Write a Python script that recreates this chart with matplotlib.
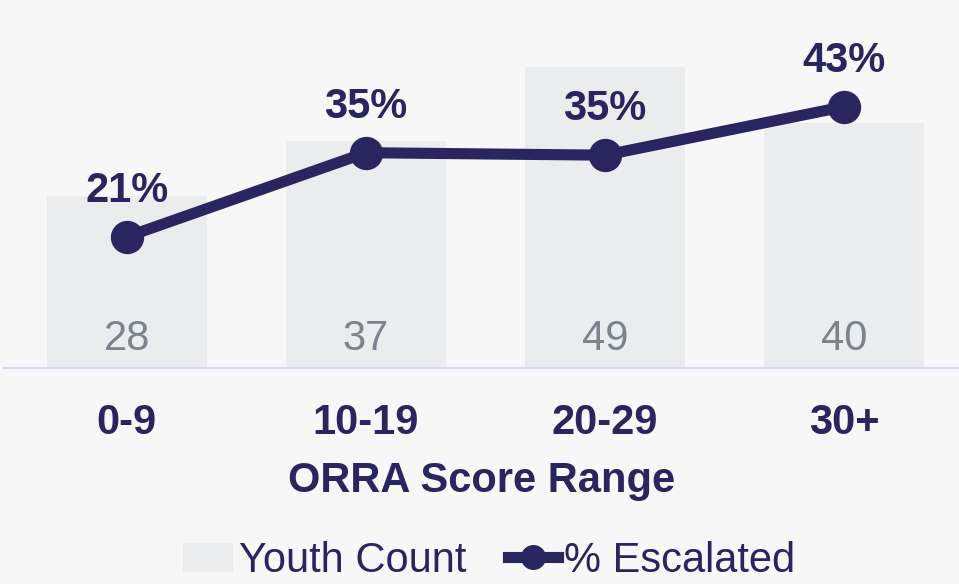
import matplotlib
matplotlib.use("Agg")
import matplotlib.pyplot as plt
from matplotlib.patches import Patch
from matplotlib.lines import Line2D

# data
ranges = ["0-9", "10-19", "20-29", "30+"]
youth_count = [28, 37, 49, 40]
pct_escalated = [21.4, 35.1, 34.7, 42.6]

NAVY = "#29265f"
BAR = "#ebecee"
BG = "#f7f7f8"
COUNT_GREY = "#7b848d"
AXIS_LINE = "#dcd8ef"

plt.rcParams.update({
    "font.family": ["Liberation Sans", "DejaVu Sans"],
    "font.size": 30,
})

fig = plt.figure(figsize=(9.59, 5.84), dpi=100, facecolor=BG)
ax = fig.add_axes([0.004, 1 - 368 / 584, 0.996, 368 / 584])
ax.set_facecolor(BG)

x = list(range(len(ranges)))
ax.bar(x, youth_count, width=0.67, color=BAR, zorder=1)
ax.plot(x, pct_escalated, "-o", color=NAVY, lw=8, ms=23, zorder=3, clip_on=False)

# count labels inside the bars, percent labels above the points
for xi, c in zip(x, youth_count):
    ax.annotate(f"{c}", (xi, 0), xytext=(0, 13), textcoords="offset points",
                ha="center", va="baseline", color=COUNT_GREY, fontsize=30)
for xi, p in zip(x, pct_escalated):
    ax.annotate(f"{p:.0f}%", (xi, p), xytext=(0, 25), textcoords="offset points",
                ha="center", va="baseline", color=NAVY, fontsize=30, fontweight="bold")

ax.set_xlim(-0.515, 3.481)
ax.set_ylim(0, 60)
ax.set_yticks([])
for s in ["top", "right", "left"]:
    ax.spines[s].set_visible(False)
ax.spines["bottom"].set_color(AXIS_LINE)
ax.spines["bottom"].set_linewidth(1.6)

ax.set_xticks(x)
ax.set_xticklabels(ranges, fontweight="bold", color=NAVY, fontsize=30)
ax.tick_params(axis="x", length=0, pad=25)
ax.set_xlabel("ORRA Score Range", fontweight="bold", color=NAVY, fontsize=30, labelpad=13)

handles = [
    Patch(facecolor=BAR, edgecolor="none", label="Youth Count"),
    Line2D([], [], color=NAVY, lw=8, marker="o", ms=17, label="% Escalated"),
]
fig.legend(handles=handles, loc="center", bbox_to_anchor=(0.51, 1 - 561 / 584),
           ncol=2, frameon=False, fontsize=30, handlelength=1.2,
           handletextpad=0.15, columnspacing=1.0, labelcolor=NAVY)

fig.savefig("out.png", dpi=100, facecolor=BG)
